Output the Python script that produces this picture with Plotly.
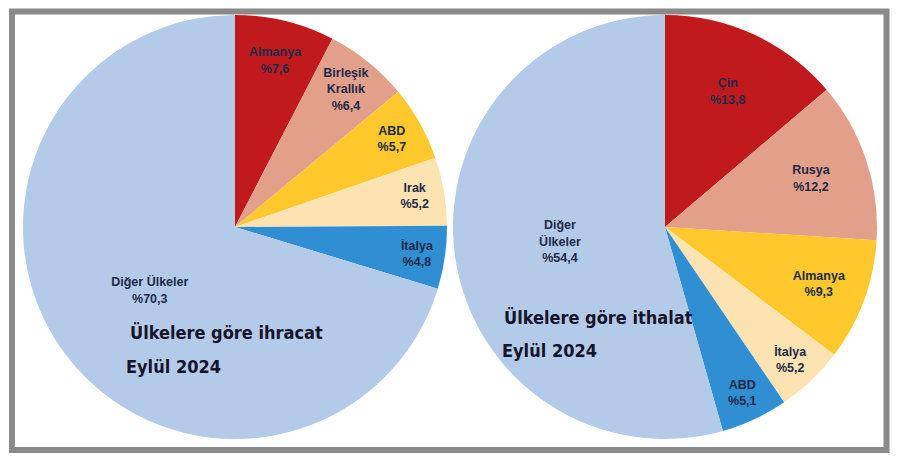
import plotly.graph_objects as go

# Data
exp_labels = ["Almanya", "Birleşik<br>Krallık", "ABD", "Irak", "İtalya", "Diğer Ülkeler"]
exp_values = [7.6, 6.4, 5.7, 5.2, 4.8, 70.3]
imp_labels = ["Çin", "Rusya", "Almanya", "İtalya", "ABD", "Diğer<br>Ülkeler"]
imp_values = [13.8, 12.2, 9.3, 5.2, 5.1, 54.4]

colors = ["#C01A1E", "#E2A08A", "#FFC92E", "#FDE3B2", "#2F8FD2", "#B4CAE9"]
W, H = 900, 465


def fmt(v):
    return ("%" + f"{v:.1f}").replace(".", ",")


def pie(labels, values, cx, cy, r):
    return go.Pie(
        labels=labels,
        values=values,
        text=[f"{l}<br>{fmt(v)}" for l, v in zip(labels, values)],
        textinfo="text",
        textposition="inside",
        insidetextorientation="horizontal",
        sort=False,
        direction="clockwise",
        rotation=0,
        marker=dict(colors=colors, line=dict(width=0)),
        textfont=dict(family="Liberation Sans, Arial, sans-serif", size=12.5,
                      color="#1E2A48", weight="bold"),
        domain=dict(x=[(cx - r) / W, (cx + r) / W], y=[1 - (cy + r) / H, 1 - (cy - r) / H]),
        showlegend=False,
        hoverinfo="label+value",
    )


fig = go.Figure()
fig.add_trace(pie(exp_labels, exp_values, 235, 227, 212))
fig.add_trace(pie(imp_labels, imp_values, 665, 227, 212))

title_font = dict(family="DejaVu Sans Condensed, Liberation Sans Narrow, sans-serif", size=18,
                  color="#14142A", weight="bold")
titles = [
    ("Ülkelere göre ihracat", 226.5, 332),
    ("Eylül 2024", 173.5, 366),
    ("Ülkelere göre ithalat", 598.5, 317),
    ("Eylül 2024", 549.5, 350),
]
for t, x, y in titles:
    fig.add_annotation(text=t, x=x / W, y=1 - y / H, xref="paper", yref="paper",
                       xanchor="center", yanchor="middle", showarrow=False, font=title_font)

fig.add_shape(type="rect", xref="paper", yref="paper",
              x0=12 / W, x1=886.5 / W, y0=1 - 450 / H, y1=1 - 11.5 / H,
              line=dict(color="#8A8A8A", width=6), fillcolor="rgba(0,0,0,0)", layer="below")

fig.update_layout(width=W, height=H, margin=dict(l=0, r=0, t=0, b=0),
                  paper_bgcolor="white", plot_bgcolor="white")
fig.write_html("out.html")
